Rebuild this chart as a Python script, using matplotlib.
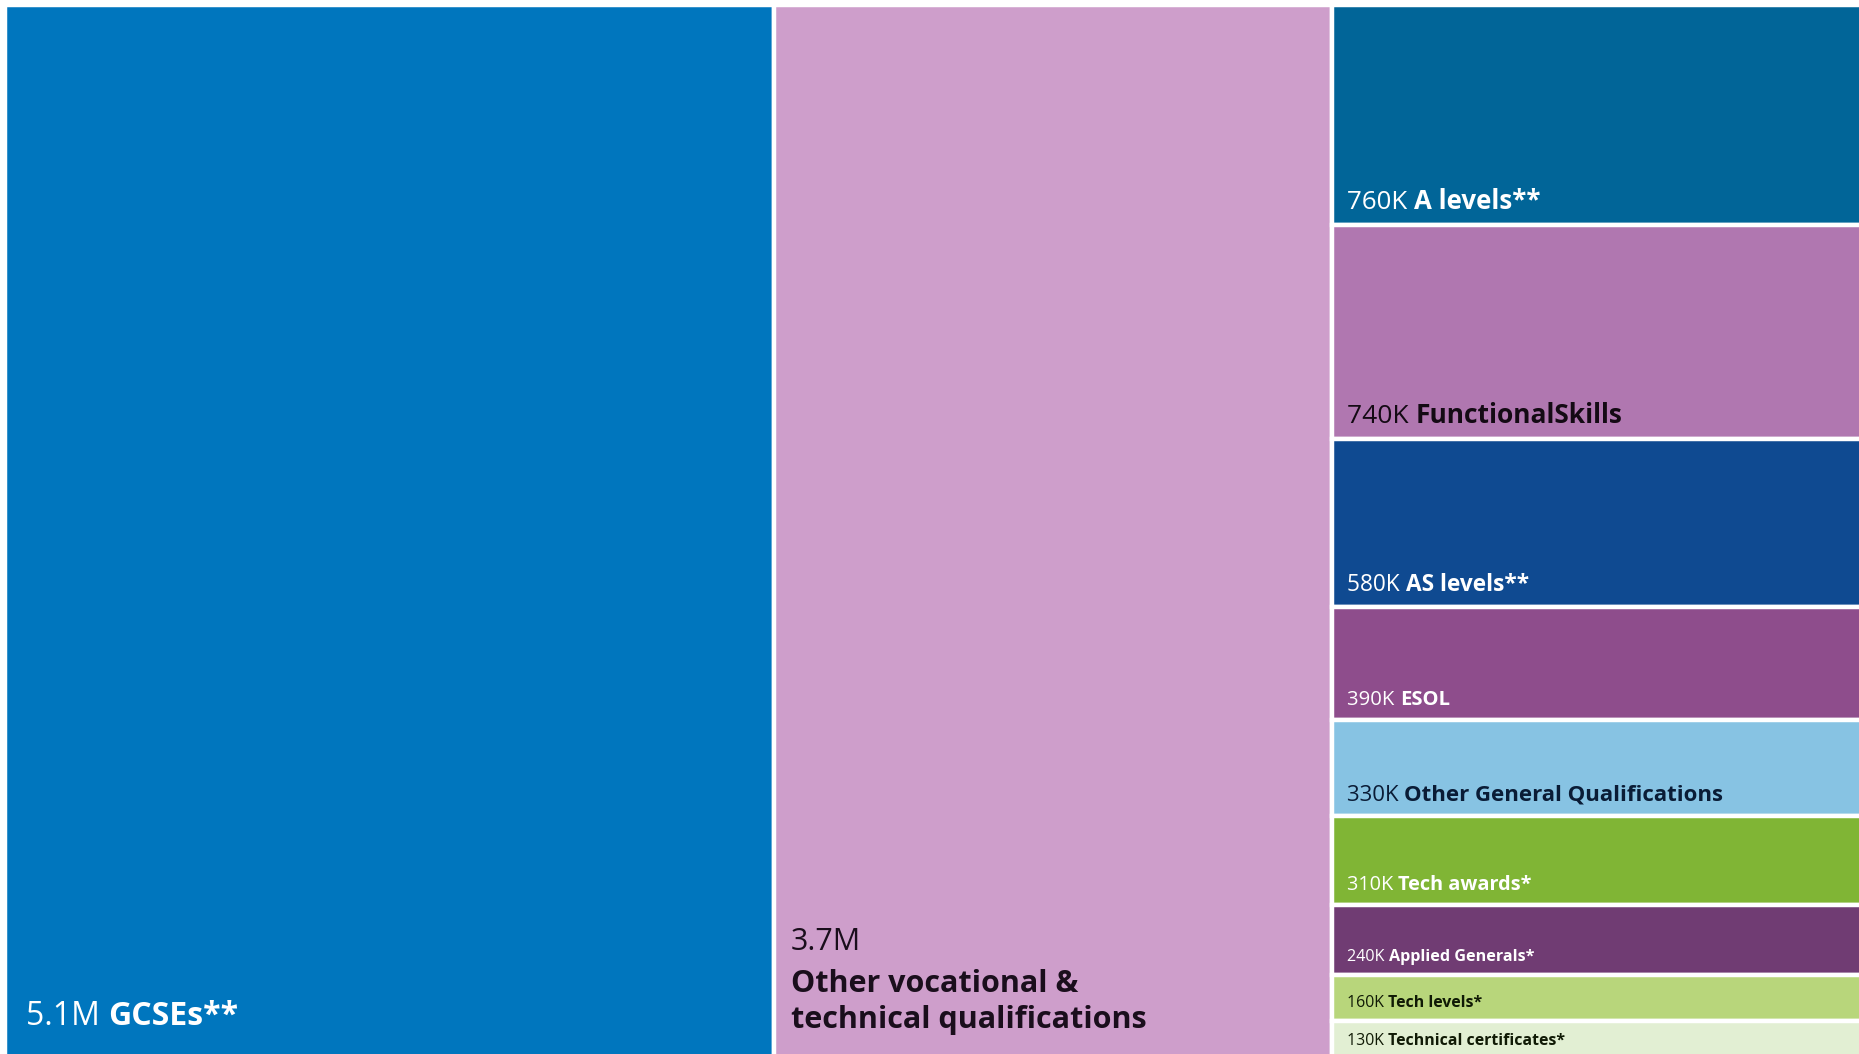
import matplotlib

matplotlib.use("Agg")
import matplotlib.pyplot as plt
from matplotlib.patches import Rectangle

plt.rcParams["font.family"] = ["Open Sans", "DejaVu Sans"]

# ---------------------------------------------------------------- data (thousands of certificates)
big_names = ["GCSEs**", "Other vocational &\ntechnical qualifications"]
big_values = [5100, 3700]
big_labels = ["5.1M", "3.7M"]

side_names = ["A levels**", "FunctionalSkills", "AS levels**", "ESOL",
              "Other General Qualifications", "Tech awards*", "Applied Generals*",
              "Tech levels*", "Technical certificates*"]
side_values = [760, 740, 580, 390, 330, 310, 240, 160, 130]
side_labels = ["760K", "740K", "580K", "390K", "330K", "310K", "240K", "160K", "130K"]

# ---------------------------------------------------------------- styling
big_colors = ["#0076BE", "#CE9ECB"]
big_text = ["white", "#1A0E1C"]
side_colors = ["#016598", "#B077B0", "#0F4A91", "#8E4D8C", "#87C3E3",
               "#80B535", "#703C73", "#B8D67B", "#E2EFD3"]
side_text = ["white", "#140A14", "white", "white", "#0A1C36",
             "white", "white", "#101A05", "#101A05"]
side_sizes = [18.6, 19, 16.3, 14.6, 16, 14.3, 11.6, 11.4, 11.4]
EDGE = 3.2
PAD_X, PAD_Y = 15, 10  # pixels from the bottom-left corner of a tile


def label(ax, x, y, value, name, color, size, padx, pady):
    t1 = ax.annotate(value + " ", xy=(x, y), xycoords="data", xytext=(padx, pady),
                     textcoords="offset pixels", ha="left", va="bottom",
                     color=color, fontsize=size, annotation_clip=False)
    ax.annotate(name, xy=(1, 0), xycoords=t1, ha="left", va="bottom",
                color=color, fontsize=size, fontweight="bold", annotation_clip=False)


def main() -> None:
    W, H = 1859, 1054
    fig = plt.figure(figsize=(W / 100, H / 100), dpi=100)
    ax = fig.add_axes([5 / W, 0, 1 - 5 / W, 1 - 5 / H])
    ax.set_axis_off()

    col_h = sum(side_values)
    total = sum(big_values) + col_h

    # big columns span the full height
    x = 0
    for i, v in enumerate(big_values):
        ax.add_patch(Rectangle((x, 0), v, col_h, facecolor=big_colors[i],
                               edgecolor="white", linewidth=EDGE))
        x += v
    side_x = x

    # right column stacked top to bottom
    y = 0
    for i, v in enumerate(side_values):
        ax.add_patch(Rectangle((side_x, y), col_h, v, facecolor=side_colors[i],
                               edgecolor="white", linewidth=EDGE))
        label(ax, side_x, y + v, side_labels[i], side_names[i], side_text[i],
              side_sizes[i], PAD_X, PAD_Y)
        y += v

    # big labels
    label(ax, 0, col_h, big_labels[0], big_names[0], big_text[0], 23, 21, 26)
    t = ax.annotate(big_names[1], xy=(big_values[0], col_h), xytext=(17, 24),
                    textcoords="offset pixels", ha="left", va="bottom",
                    color=big_text[1], fontsize=22, fontweight="bold", linespacing=1.25,
                    annotation_clip=False)
    ax.annotate(big_labels[1], xy=(0, 1), xycoords=t, xytext=(0, 12),
                textcoords="offset pixels", ha="left", va="bottom",
                color=big_text[1], fontsize=22, annotation_clip=False)

    # the source image is cropped slightly on the right and at the bottom
    ax.set_xlim(0, total * 0.9883)
    ax.set_ylim(col_h * 0.9953, 0)

    fig.savefig("out.png", dpi=100, facecolor="white")
    plt.close(fig)


if __name__ == "__main__":
    main()
